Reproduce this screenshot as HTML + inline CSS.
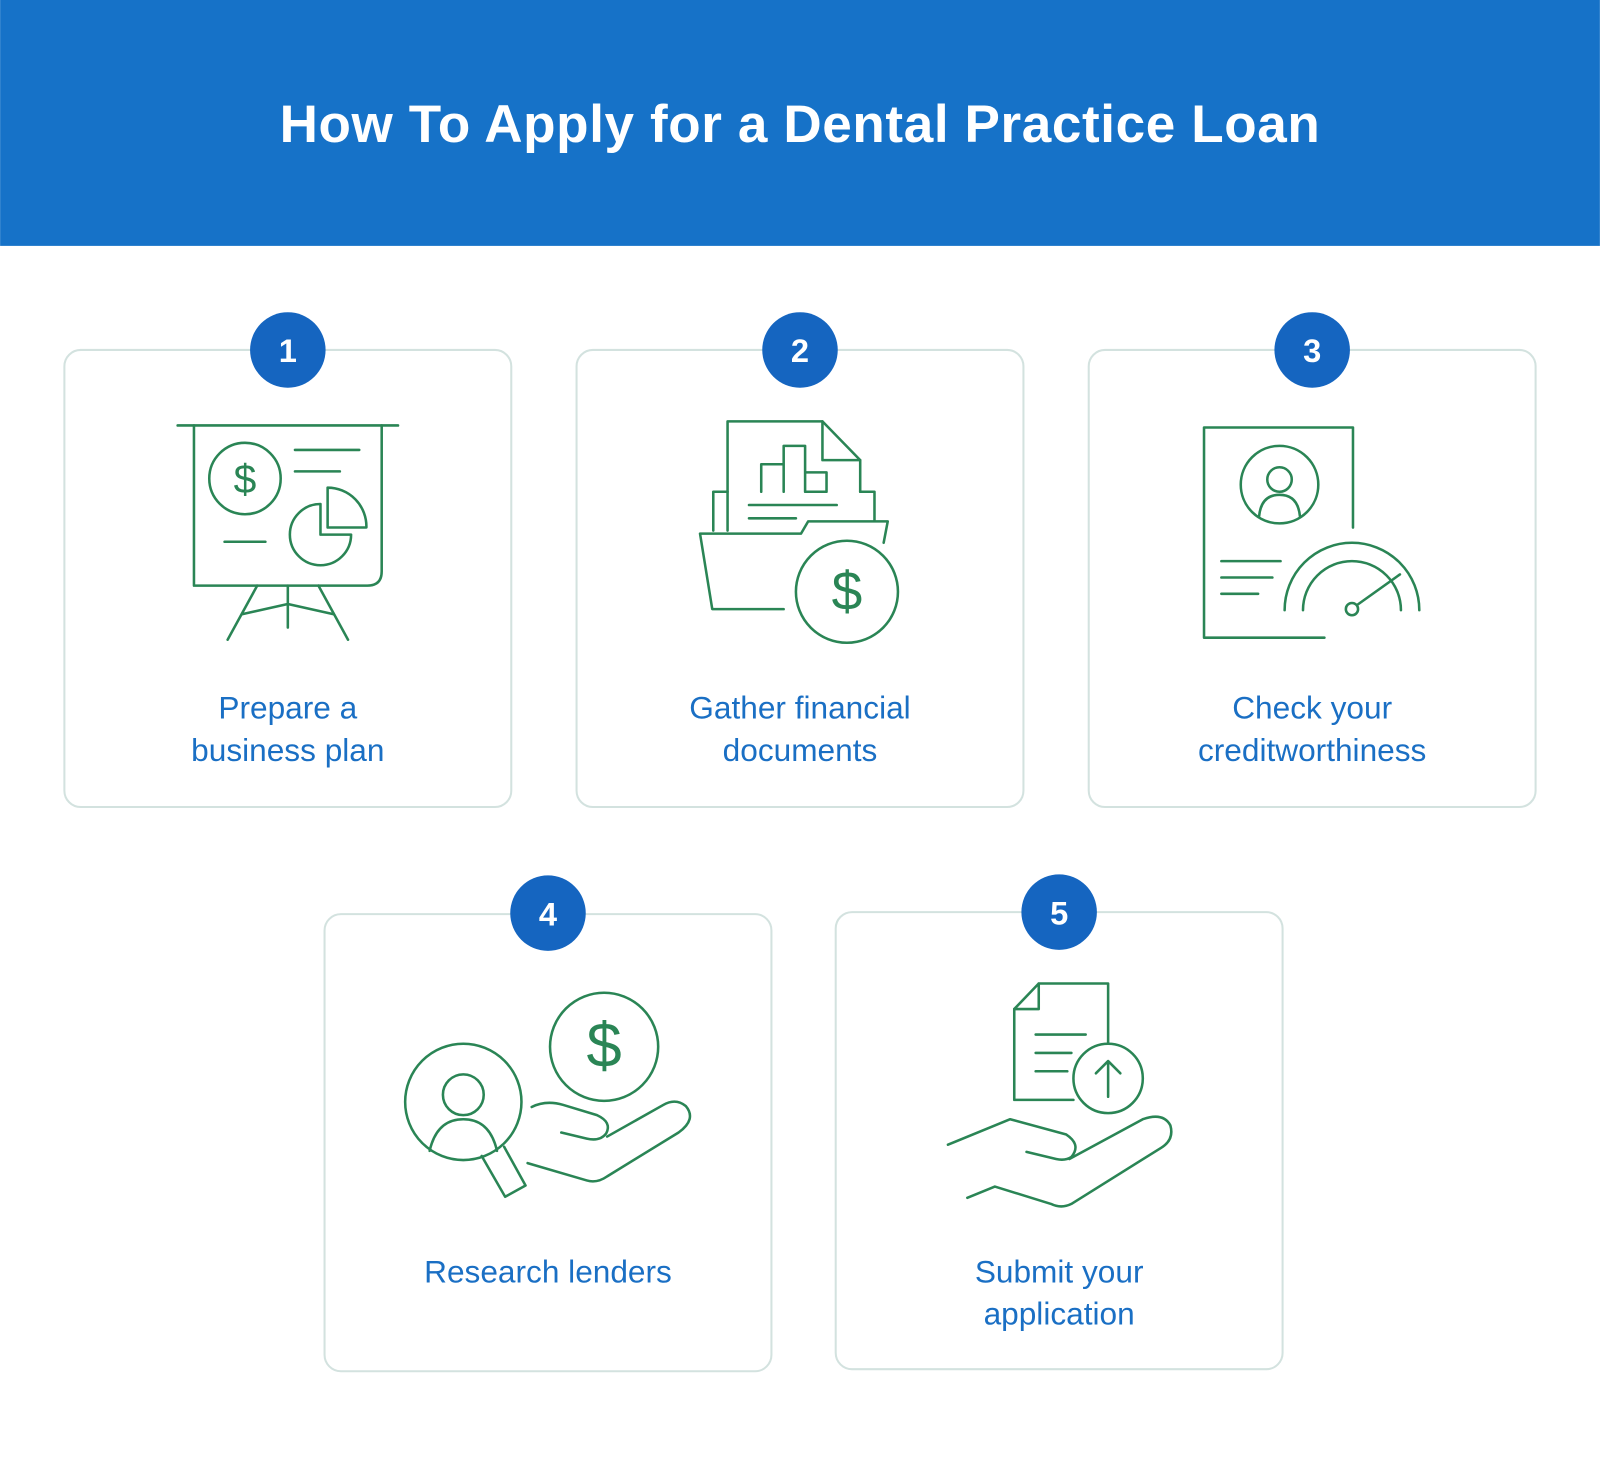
<!DOCTYPE html>
<html><head><meta charset="utf-8"><style>
html,body{margin:0;padding:0;background:#fff;}
svg{display:block;}
</style></head><body>
<svg width="1600" height="1460" viewBox="0 0 1568 1431" xmlns="http://www.w3.org/2000/svg">
<rect x="0" y="0" width="1568" height="241" fill="#1672c8"/>
<text x="784" y="139" text-anchor="middle" font-family="Liberation Sans, sans-serif" font-weight="bold" font-size="52" letter-spacing="0.6" fill="#fff">How To Apply for a Dental Practice Loan</text>

<g fill="#fff" stroke="#d3e2df" stroke-width="2">
<rect x="63" y="343" width="438" height="448" rx="16"/>
<rect x="565" y="343" width="438" height="448" rx="16"/>
<rect x="1067" y="343" width="438" height="448" rx="16"/>
<rect x="318" y="896" width="438" height="448" rx="16"/>
<rect x="819" y="894" width="438" height="448" rx="16"/>
</g>
<g fill="#1565c0">
<circle cx="282" cy="343" r="37"/><circle cx="784" cy="343" r="37"/><circle cx="1286" cy="343" r="37"/>
<circle cx="537" cy="895" r="37"/><circle cx="1038" cy="894" r="37"/>
</g>
<g fill="#fff" font-family="Liberation Sans, sans-serif" font-weight="bold" font-size="32" text-anchor="middle">
<text x="282" y="355">1</text><text x="784" y="355">2</text><text x="1286" y="355">3</text>
<text x="537" y="907">4</text><text x="1038" y="906">5</text>
</g>
<g fill="#1a6fc4" font-family="Liberation Sans, sans-serif" font-size="31" text-anchor="middle">
<text x="282" y="704">Prepare a</text><text x="282" y="746">business plan</text>
<text x="784" y="704">Gather financial</text><text x="784" y="746">documents</text>
<text x="1286" y="704">Check your</text><text x="1286" y="746">creditworthiness</text>
<text x="537" y="1257">Research lenders</text>
<text x="1038" y="1257">Submit your</text><text x="1038" y="1298">application</text>
</g>
<g fill="#2a8555" font-family="Liberation Sans, sans-serif" text-anchor="middle">
<text x="240" y="483" font-size="40">$</text>
<text x="830" y="598" font-size="54">$</text>
<text x="592" y="1046" font-size="62">$</text>
</g>

<g fill="none" stroke="#2a8555" stroke-width="2.5" stroke-linecap="round" stroke-linejoin="round">
<line x1="174" y1="417" x2="390" y2="417"/>
<path d="M190 417 V574 H360 Q374 574 374 560 V417"/>
<circle cx="240" cy="469" r="35"/>
<line x1="289" y1="441" x2="352" y2="441"/><line x1="289" y1="462" x2="333" y2="462"/><line x1="220" y1="531" x2="260" y2="531"/>
<path d="M314 494 A30 30 0 1 0 344 524 H314 Z"/>
<path d="M321 478 A38 38 0 0 1 359 517 H321 Z"/>
<line x1="282" y1="574" x2="282" y2="615"/>
<line x1="252" y1="574" x2="223" y2="627"/><line x1="312" y1="574" x2="341" y2="627"/>
<path d="M237 602 L282 592 L327 602"/>
<path d="M713 482 V413 H806 L843 451 V482"/><path d="M806 413 V451 H843"/>
<path d="M746 482 V455 H768 V482 M768 482 V437 H789 V482 M789 482 V463 H810 V482 Z"/>
<line x1="734" y1="495" x2="820" y2="495"/><line x1="734" y1="508" x2="780" y2="508"/>
<path d="M713 520 V482 H699 V520"/><path d="M843 482 H857 V510"/>
<path d="M768 597 H698 L686 523 H785 L792 511 H870 L866 532"/>
<circle cx="830" cy="580" r="50"/>
<path d="M1326 517 V419 H1180 V625 H1298"/>
<circle cx="1254" cy="475" r="38"/><circle cx="1254" cy="470" r="12"/>
<path d="M1234 506 Q1236 485 1254 485 Q1272 485 1274 506"/>
<line x1="1197" y1="550" x2="1255" y2="550"/><line x1="1197" y1="566" x2="1247" y2="566"/><line x1="1197" y1="582" x2="1233" y2="582"/>
<path d="M1259 598 A66 66 0 0 1 1391 598"/><path d="M1277 598 A48 48 0 0 1 1373 598"/>
<circle cx="1325" cy="597" r="6"/><line x1="1330" y1="593" x2="1372" y2="563"/>
<circle cx="454" cy="1080" r="57"/><circle cx="454" cy="1073" r="20"/>
<path d="M421 1128 Q428 1097 454 1097 Q480 1097 487 1128"/>
<path d="M472 1133 L495 1173 L515 1162 L494 1124"/>
<circle cx="592" cy="1026" r="53"/>
<path d="M517 1140 L575 1157 Q585 1160 595 1153 L665 1110 Q683 1097 672 1084 Q662 1076 650 1083 L595 1114"/>
<path d="M521 1085 Q535 1078 552 1083 L585 1093 Q600 1100 594 1111 Q588 1119 575 1116 L550 1110"/>
<path d="M1052 1078 H994 V989 L1018 964 H1086 V1022"/><path d="M994 989 H1018 V964"/>
<line x1="1015" y1="1014" x2="1064" y2="1014"/><line x1="1015" y1="1032" x2="1050" y2="1032"/><line x1="1015" y1="1050" x2="1046" y2="1050"/>
<circle cx="1086" cy="1057" r="34"/><path d="M1086 1075 V1040 M1074 1052 L1086 1040 L1098 1052"/>
<path d="M929 1122 L990 1097 L1045 1112 Q1060 1122 1050 1134 Q1044 1138 1035 1136 L1006 1129"/>
<path d="M1048 1136 L1120 1097 Q1140 1090 1147 1103 Q1151 1117 1138 1125 L1050 1180 Q1040 1185 1030 1180 L975 1163 L948 1174"/>
</g>
</svg>
</body></html>
